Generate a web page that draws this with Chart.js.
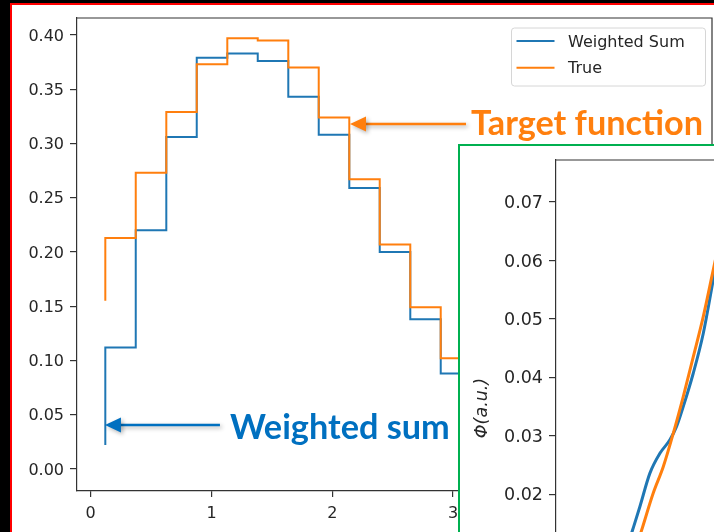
<!DOCTYPE html>
<html>
<head>
<meta charset="utf-8">
<script src="https://cdn.jsdelivr.net/npm/chart.js@4.4.1/dist/chart.umd.min.js"></script>
<style>
html,body{margin:0;padding:0;width:714px;height:532px;overflow:hidden;background:#000;}
#frame{position:absolute;left:10px;top:3px;width:800px;height:600px;border-left:2px solid #f00;border-top:2px solid #f00;background:#fff;}
#main{position:absolute;left:0;top:0;}
#insetBox{position:absolute;left:458px;top:144px;width:400px;height:520px;border-left:2px solid #00B050;border-top:2px solid #00B050;background:#fff;}
#inset{position:absolute;left:0;top:0;}
</style>
</head>
<body>
<div id="frame"></div>
<canvas id="main" width="714" height="532"></canvas>
<div id="insetBox"><canvas id="inset" width="399" height="510"></canvas></div>
<script>
// ---------- main chart data (step, where='pre') ----------
const xEdges      = [0.121, 0.373, 0.626, 0.878, 1.131, 1.383, 1.636, 1.888, 2.141, 2.393, 2.646, 2.898, 3.151];
const weightedSum = [0.022, 0.112, 0.220, 0.306, 0.379, 0.383, 0.376, 0.343, 0.308, 0.259, 0.200, 0.138, 0.088];
const trueValues  = [0.155, 0.213, 0.273, 0.329, 0.373, 0.397, 0.395, 0.370, 0.324, 0.267, 0.207, 0.149, 0.102];
const xTicks = [0, 1, 2, 3, 4, 5];
const yTicks = [0.00, 0.05, 0.10, 0.15, 0.20, 0.25, 0.30, 0.35, 0.40];
const seriesLabels = ['Weighted Sum', 'True'];

// ---------- inset data (smooth curves) ----------
const insetXWeighted = [2.25, 2.53, 2.77, 3.10, 3.43, 3.76, 3.98, 4.20, 4.53, 4.86, 5.19, 5.41];
const insetWeighted  = [0.0093, 0.0139, 0.0179, 0.0236, 0.0270, 0.0293, 0.0316, 0.0350, 0.0407, 0.0475, 0.0567, 0.0628];
const insetXTrue     = [2.55, 2.83, 3.21, 3.54, 3.87, 4.20, 4.53, 4.86, 5.19, 5.41];
const insetTrue      = [0.0093, 0.0139, 0.0202, 0.0247, 0.0304, 0.0367, 0.0435, 0.0504, 0.0584, 0.0637];
const insetYTicks = [0.02, 0.03, 0.04, 0.05, 0.06, 0.07];
const insetYTitle = 'Φ(a.u.)';

const BLUE = '#1f77b4', ORANGE = '#ff7f0e', AXIS = '#333333', TEXT = '#262626';

const framePlugin = {
  id: 'frame',
  afterDraw(chart, args, opts) {
    const a = chart.chartArea, ctx = chart.ctx;
    ctx.save();
    ctx.strokeStyle = AXIS; ctx.lineWidth = 1.2;
    ctx.beginPath();
    ctx.moveTo(a.left, a.top); ctx.lineTo(a.right, a.top);
    if (opts.right) ctx.lineTo(a.right, a.bottom);
    ctx.stroke();
    ctx.restore();
  }
};

const legendPlugin = {
  id: 'mplLegend',
  afterDraw(chart) {
    const ctx = chart.ctx, a = chart.chartArea;
    const w = 194, h = 58;
    const x0 = a.right - 7 - w, y0 = a.top + 9.5;
    ctx.save();
    ctx.beginPath();
    ctx.roundRect(x0 + 0.5, y0 + 0.5, w, h, 3);
    ctx.fillStyle = 'rgba(255,255,255,0.8)';
    ctx.fill();
    ctx.strokeStyle = '#d6d6d6'; ctx.lineWidth = 1;
    ctx.stroke();
    ctx.font = '16px "DejaVu Sans"';
    ctx.textBaseline = 'middle';
    chart.data.datasets.forEach((ds, i) => {
      const yy = y0 + 13.5 + i * 26.7;
      ctx.strokeStyle = ds.borderColor; ctx.lineWidth = 2;
      ctx.beginPath(); ctx.moveTo(x0 + 5.5, yy); ctx.lineTo(x0 + 43.5, yy); ctx.stroke();
      ctx.fillStyle = TEXT;
      ctx.fillText(ds.label, x0 + 57, yy + 1.5);
    });
    ctx.restore();
  }
};

const annotations = [
  {text: 'Target function', color: '#FF7F0E', tipX: 2.147, tipY: 0.318, tail: 116, textDx: 121, textDy: 11, textWidth: 232},
  {text: 'Weighted sum',    color: '#0070C0', tipX: 0.118, tipY: 0.0406, tail: 115, textDx: 125, textDy: 14, textWidth: 220}
];

const annotationPlugin = {
  id: 'arrows',
  afterDraw(chart) {
    const ctx = chart.ctx, xs = chart.scales.x, ys = chart.scales.y;
    annotations.forEach(an => {
      const px = xs.getPixelForValue(an.tipX), py = ys.getPixelForValue(an.tipY);
      ctx.save();
      ctx.shadowColor = 'rgba(0,0,0,0.3)'; ctx.shadowBlur = 4; ctx.shadowOffsetX = 2; ctx.shadowOffsetY = 2;
      ctx.strokeStyle = an.color; ctx.fillStyle = an.color; ctx.lineWidth = 2.6;
      ctx.beginPath(); ctx.moveTo(px + an.tail, py); ctx.lineTo(px + 13, py); ctx.stroke();
      ctx.beginPath(); ctx.moveTo(px, py); ctx.lineTo(px + 16, py - 7.5); ctx.lineTo(px + 16, py + 7.5); ctx.closePath(); ctx.fill();
      ctx.restore();
      ctx.save();
      let size = 30;
      ctx.font = `bold ${size}px Lato`;
      size = size * an.textWidth / ctx.measureText(an.text).width;
      ctx.font = `bold ${size}px Lato`;
      ctx.fillStyle = an.color; ctx.textBaseline = 'alphabetic';
      ctx.fillText(an.text, px + an.textDx, py + an.textDy);
      ctx.restore();
    });
  }
};

function zeroPad(s) { s.paddingTop = 0; s.paddingBottom = 0; s.paddingLeft = 0; s.paddingRight = 0; }

new Chart(document.getElementById('main'), {
  type: 'line',
  data: {
    datasets: [
      {label: seriesLabels[0], data: xEdges.map((x, i) => ({x, y: weightedSum[i]})), borderColor: BLUE, borderWidth: 2, pointRadius: 0, stepped: 'after', fill: false, order: 1},
      {label: seriesLabels[1], data: xEdges.map((x, i) => ({x, y: trueValues[i]})), borderColor: ORANGE, borderWidth: 2, pointRadius: 0, stepped: 'after', fill: false, order: 0}
    ]
  },
  options: {
    responsive: false, animation: false, events: [],
    layout: {padding: {top: 18, right: 2, left: 0, bottom: 0}},
    plugins: {legend: {display: false}, tooltip: {enabled: false}, frame: {right: true}},
    scales: {
      x: {
        type: 'linear', min: -0.1134, max: 5.144,
        afterBuildTicks: s => { s.ticks = xTicks.map(v => ({value: v})); },
        afterFit: s => { s.height = 41; zeroPad(s); },
        grid: {display: true, drawOnChartArea: false, drawTicks: true, tickLength: 6, color: AXIS, lineWidth: 1.2},
        border: {display: true, color: AXIS, width: 1.2},
        ticks: {font: {family: 'DejaVu Sans', size: 16}, color: TEXT, padding: 7, maxRotation: 0, autoSkip: false, callback: v => String(v)}
      },
      y: {
        type: 'linear', min: -0.0203, max: 0.4157,
        afterBuildTicks: s => { s.ticks = yTicks.map(v => ({value: v})); },
        afterFit: s => { s.width = 77; zeroPad(s); },
        grid: {display: true, drawOnChartArea: false, drawTicks: true, tickLength: 7, color: AXIS, lineWidth: 1.2},
        border: {display: true, color: AXIS, width: 1.2},
        ticks: {font: {family: 'DejaVu Sans', size: 16}, color: TEXT, padding: 6, labelOffset: 1.5, autoSkip: false, callback: v => v.toFixed(2)}
      }
    }
  },
  plugins: [framePlugin, legendPlugin, annotationPlugin]
});

new Chart(document.getElementById('inset'), {
  type: 'line',
  data: {
    datasets: [
      {label: seriesLabels[0], data: insetXWeighted.map((x, i) => ({x, y: insetWeighted[i]})), borderColor: BLUE, borderWidth: 3, pointRadius: 0, cubicInterpolationMode: 'monotone', fill: false, order: 1},
      {label: seriesLabels[1], data: insetXTrue.map((x, i) => ({x, y: insetTrue[i]})), borderColor: ORANGE, borderWidth: 3, pointRadius: 0, cubicInterpolationMode: 'monotone', fill: false, order: 0}
    ]
  },
  options: {
    responsive: false, animation: false, events: [],
    layout: {padding: {top: 14, right: 0, left: 0, bottom: 0}},
    plugins: {legend: {display: false}, tooltip: {enabled: false}, frame: {right: false}},
    scales: {
      x: {type: 'linear', min: 0, max: 10, display: false},
      y: {
        type: 'linear', min: -0.0077, max: 0.0772,
        afterBuildTicks: s => { s.ticks = insetYTicks.map(v => ({value: v})); },
        afterFit: s => { s.width = 96; zeroPad(s); },
        grid: {display: true, drawOnChartArea: false, drawTicks: true, tickLength: 7, color: AXIS, lineWidth: 1.2},
        border: {display: true, color: AXIS, width: 1.2},
        ticks: {font: {family: 'DejaVu Sans', size: 17.5}, color: TEXT, padding: 6, labelOffset: 1.5, autoSkip: false, callback: v => v.toFixed(2)},
        title: {display: true, text: insetYTitle, color: TEXT, font: {family: 'DejaVu Sans', size: 17.5, style: 'italic'}, padding: {top: 12, bottom: 0}}
      }
    }
  },
  plugins: [framePlugin]
});
</script>
</body>
</html>
